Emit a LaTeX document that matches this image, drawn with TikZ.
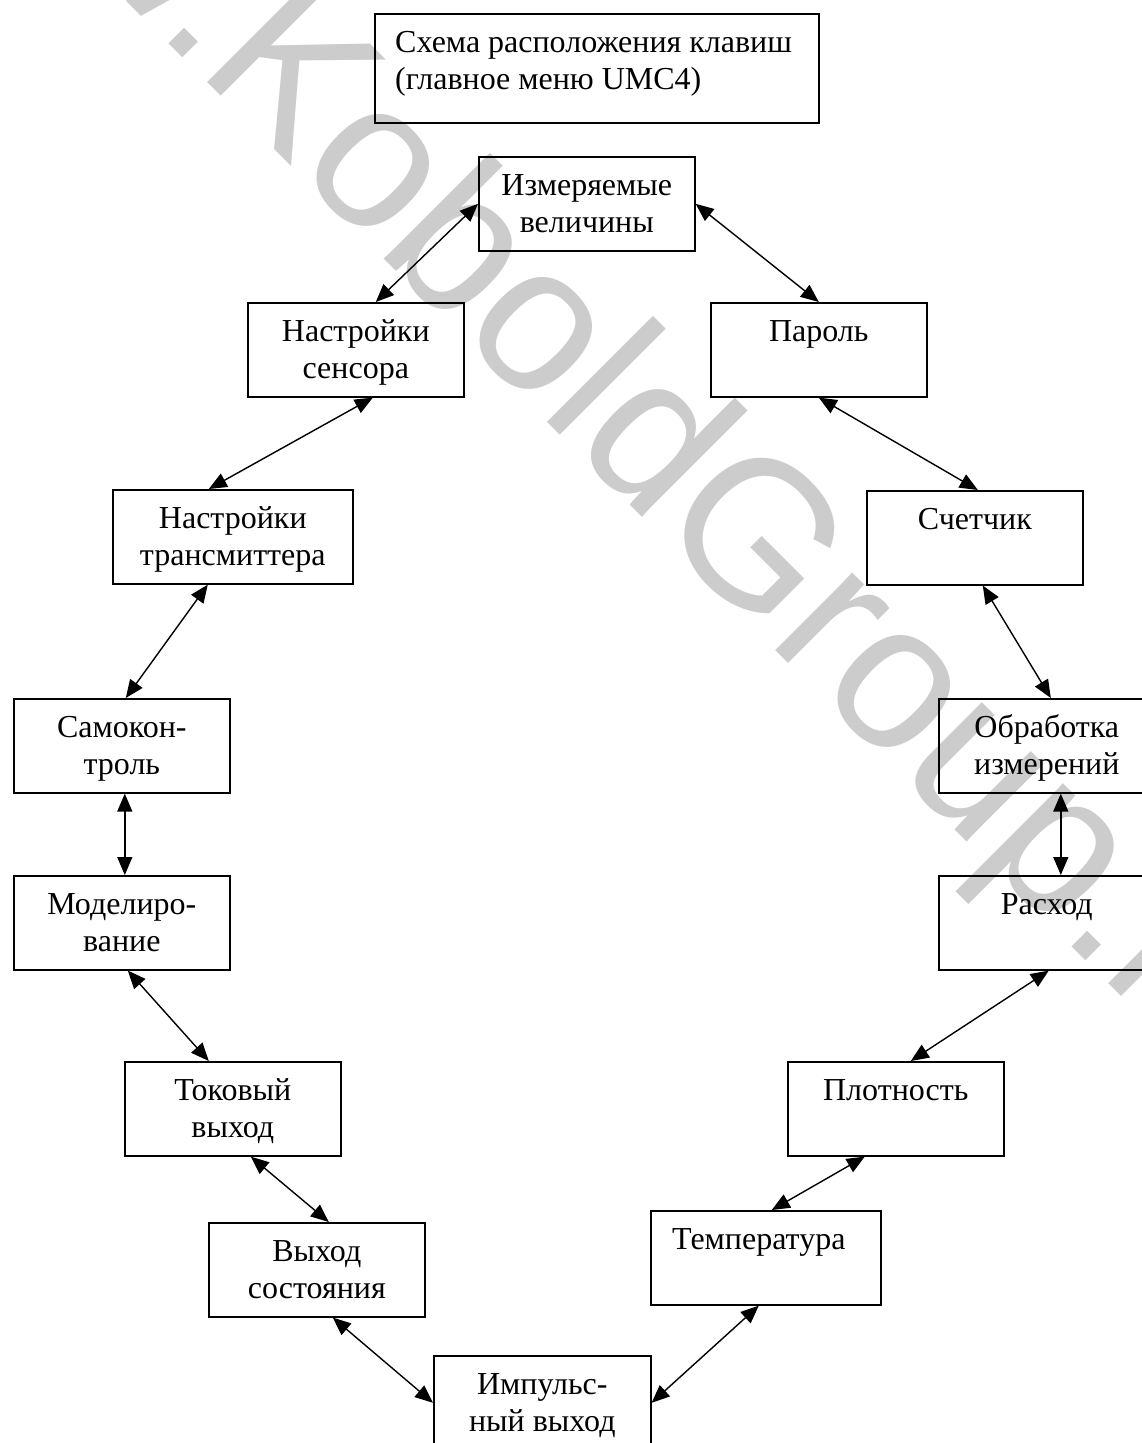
\documentclass[tikz,border=0pt]{standalone}
\usepackage{fontspec}
\setmainfont{Liberation Serif}
\newfontfamily\wmfont{Liberation Sans}
\usetikzlibrary{arrows.meta,calc}
\begin{document}
\begin{tikzpicture}[x=1pt,y=-1pt,
  box/.style={draw, line width=1.6pt, minimum width=216pt, minimum height=94pt, inner sep=0pt, anchor=north west},
  lbl/.style={inner sep=0pt, anchor=base, font=\fontsize{32}{37}\selectfont},
  conn/.style={line width=1.4pt, {Triangle[length=18pt,width=15pt]}-{Triangle[length=18pt,width=15pt]}}]
\useasboundingbox (0,0) rectangle (1142,1443);
% watermark
\node[rotate=-45, anchor=base west, text=black!20, inner sep=0pt, font=\wmfont\fontsize{207}{207}\selectfont] (wm) at (-154,-279) {www.KoboldGroup.ru};
% boxes
\node[box, minimum width=444pt, minimum height=109pt] (A) at (374,13) {};
\node[box] (B) at (478,156) {};
\node[box] (C) at (247,302) {};
\node[box] (D) at (710,302) {};
\node[box, minimum width=240pt] (E) at (112,489) {};
\node[box] (F) at (866,490) {};
\node[box] (G) at (13,698) {};
\node[box] (H) at (938,698) {};
\node[box] (I) at (13,875) {};
\node[box] (J) at (938,875) {};
\node[box] (K) at (124,1061) {};
\node[box] (L) at (787,1061) {};
\node[box] (M) at (208,1222) {};
\node[box, minimum width=230pt] (N) at (650,1210) {};
\node[box, minimum width=217pt] (O) at (433,1355) {};
% labels
\node[lbl, anchor=base west] (tA) at ([xshift=21pt,yshift=-39pt]A.north west) {\begin{tabular}[t]{@{}l@{}}Схема расположения клавиш\\(главное меню UMC4)\end{tabular}};
\node[lbl] (tB) at ([yshift=-39pt]B.north) {\begin{tabular}[t]{@{}c@{}}Измеряемые\\величины\end{tabular}};
\node[lbl] (tC) at ([yshift=-39pt]C.north) {\begin{tabular}[t]{@{}c@{}}Настройки\\сенсора\end{tabular}};
\node[lbl] (tD) at ([yshift=-39pt]D.north) {Пароль};
\node[lbl] (tE) at ([yshift=-39pt]E.north) {\begin{tabular}[t]{@{}c@{}}Настройки\\трансмиттера\end{tabular}};
\node[lbl] (tF) at ([yshift=-39pt]F.north) {Счетчик};
\node[lbl] (tG) at ([yshift=-39pt]G.north) {\begin{tabular}[t]{@{}c@{}}Самокон-\\троль\end{tabular}};
\node[lbl] (tH) at ([yshift=-39pt]H.north) {\begin{tabular}[t]{@{}c@{}}Обработка\\измерений\end{tabular}};
\node[lbl] (tI) at ([yshift=-39pt]I.north) {\begin{tabular}[t]{@{}c@{}}Моделиро-\\вание\end{tabular}};
\node[lbl] (tJ) at ([yshift=-39pt]J.north) {Расход};
\node[lbl] (tK) at ([yshift=-39pt]K.north) {\begin{tabular}[t]{@{}c@{}}Токовый\\выход\end{tabular}};
\node[lbl] (tL) at ([yshift=-39pt]L.north) {Плотность};
\node[lbl] (tM) at ([yshift=-39pt]M.north) {\begin{tabular}[t]{@{}c@{}}Выход\\состояния\end{tabular}};
\node[lbl] (tN) at ([xshift=-7pt,yshift=-39pt]N.north) {Температура};
\node[lbl] (tO) at ([yshift=-39pt]O.north) {\begin{tabular}[t]{@{}c@{}}Импульс-\\ный выход\end{tabular}};
% connectors
\draw[conn] (B.west) -- ([xshift=20pt]C.north);
\draw[conn] (B.east) -- (D.north);
\draw[conn] ([xshift=17pt]C.south) -- ([xshift=-24pt]E.north);
\draw[conn] (D.south) -- ([xshift=3pt]F.north);
\draw[conn] ([xshift=-25pt]E.south) -- ([xshift=4pt]G.north);
\draw[conn] ([xshift=8pt]F.south) -- ([xshift=4pt]H.north);
\draw[conn] ([xshift=3pt]G.south) -- ([xshift=3pt]I.north);
\draw[conn] ([xshift=14pt]H.south) -- ([xshift=14pt]J.north);
\draw[conn] ([xshift=6pt]I.south) -- ([xshift=-24pt]K.north);
\draw[conn] ([xshift=2pt]J.south) -- ([xshift=15pt]L.north);
\draw[conn] ([xshift=18pt]K.south) -- ([xshift=12pt]M.north);
\draw[conn] ([xshift=-31pt]L.south) -- ([xshift=6pt]N.north);
\draw[conn] ([xshift=16pt]M.south) -- (O.west);
\draw[conn] ([xshift=-7pt]N.south) -- (O.east);
\end{tikzpicture}
\end{document}
